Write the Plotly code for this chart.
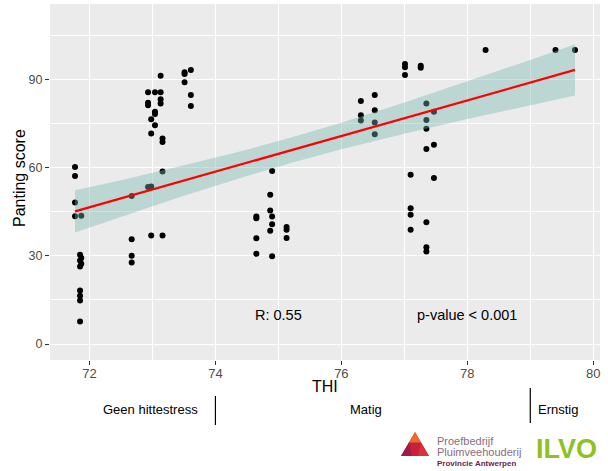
import plotly.graph_objects as go

# ---------------- data ----------------
thi = [71.77, 71.77, 71.77, 71.77,
       71.87, 71.85, 71.87, 71.85, 71.87, 71.85, 71.85, 71.85, 71.85, 71.85,
       72.67, 72.67, 72.67, 72.67,
       72.93, 72.93, 72.93, 72.93,
       72.98, 72.98, 72.98, 72.98,
       73.04, 73.04, 73.04, 73.04,
       73.13, 73.13, 73.13, 73.13,
       73.16, 73.16, 73.16, 73.16,
       73.51, 73.51, 73.51,
       73.61, 73.61, 73.61,
       74.65, 74.65, 74.65, 74.65,
       74.87, 74.87, 74.87,
       74.90, 74.90, 74.90, 74.90,
       75.13, 75.13, 75.13,
       76.31, 76.31, 76.31,
       76.53, 76.53, 76.53, 76.53,
       77.01, 77.01, 77.01,
       77.10, 77.10, 77.10, 77.10,
       77.26, 77.26,
       77.35, 77.35, 77.35, 77.35, 77.35, 77.35, 77.35,
       77.47, 77.47, 77.47,
       78.29, 79.40, 79.71]
panting = [60.2, 57.1, 48.1, 43.5,
           43.6, 30.4, 29.3, 28.4, 27.3, 26.4, 18.2, 16.4, 14.8, 7.7,
           50.3, 35.6, 30.0, 27.7,
           85.6, 82.0, 81.2, 53.4,
           76.4, 71.6, 53.6, 36.9,
           85.6, 79.0, 78.2, 74.4,
           91.2, 85.6, 83.2, 81.8,
           69.9, 68.7, 58.7, 36.9,
           92.4, 91.8, 89.0,
           93.2, 84.7, 80.9,
           43.4, 42.8, 36.0, 30.7,
           50.8, 45.4, 38.5,
           58.8, 43.4, 40.7, 29.9,
           39.8, 38.9, 36.1,
           82.6, 77.8, 76.0,
           84.7, 79.5, 75.3, 71.3,
           95.2, 94.1, 91.5,
           57.6, 46.2, 44.0, 38.9,
           94.6, 93.9,
           81.8, 76.2, 73.2, 66.3, 41.4, 32.9, 31.5,
           79.0, 67.8, 56.5,
           100.0, 100.0, 100.0]

# linear fit and its confidence band
fit_x = [71.77, 72.5, 73.5, 74.5, 75.2, 76.0, 77.0, 78.0, 79.0, 79.71]
fit_y = [45.1, 49.5, 55.6, 61.6, 65.9, 70.7, 76.8, 82.9, 88.9, 93.2]
ci_lo = [37.9, 43.2, 50.4, 57.1, 61.6, 66.2, 71.5, 76.5, 81.2, 84.5]
ci_hi = [52.3, 55.7, 60.8, 66.1, 70.2, 75.2, 82.1, 89.3, 96.6, 101.9]

x_ticks = [72, 74, 76, 78, 80]
x_minor = [73, 75, 77, 79]
y_ticks = [0, 30, 60, 90]
y_minor = [15, 45, 75, 105]

stat_text = ["R: 0.55", "p-value < 0.001"]
stat_x = [75, 78]
stat_y = [10, 10]

zones = ["Geen hittestress", "Matig", "Ernstig"]
zone_bounds = [74, 79]

# ---------------- layout geometry ----------------
W, H = 608, 471
ML, MR, MT, MB = 50, 8, 4, 111
PW, PH = W - ML - MR, H - MT - MB


def px(xp):
    return (xp - ML) / PW


def py(yp):
    return (MT + PH - yp) / PH


FONT = "Liberation Sans, Arial, sans-serif"


def label(xp, yp, text, size, color="black", xanchor="center", angle=0):
    return dict(x=px(xp), y=py(yp), xref="paper", yref="paper", text=text,
                showarrow=False, xanchor=xanchor, yanchor="middle", textangle=angle,
                font=dict(family=FONT, size=size, color=color))


fig = go.Figure()
fig.add_trace(go.Scatter(x=thi, y=panting, mode="markers",
                         marker=dict(color="black", size=6, line=dict(width=0)),
                         hoverinfo="skip", showlegend=False))
fig.add_trace(go.Scatter(x=fit_x, y=ci_lo, mode="lines", line=dict(width=0),
                         hoverinfo="skip", showlegend=False))
fig.add_trace(go.Scatter(x=fit_x, y=ci_hi, mode="lines", line=dict(width=0),
                         fill="tonexty", fillcolor="rgba(117,185,175,0.4)",
                         hoverinfo="skip", showlegend=False))
fig.add_trace(go.Scatter(x=fit_x, y=fit_y, mode="lines",
                         line=dict(color="#FF0000", width=2.2),
                         hoverinfo="skip", showlegend=False))

annotations = []
for t, xx, yy in zip(stat_text, stat_x, stat_y):
    annotations.append(dict(x=xx, y=yy, xref="x", yref="y", text=t, showarrow=False,
                            xanchor="center", yanchor="middle",
                            font=dict(family=FONT, size=14.5, color="black")))

# axis titles
annotations.append(label(325, 386, "THI", 16))
annotations.append(label(19, 178, "Panting score", 16, angle=-90))

# heat stress zones
zone_pos = [(150, 409), (366, 409), (558, 409)]
for z, (xp, yp) in zip(zones, zone_pos):
    annotations.append(label(xp, yp, z, 13))

# logos
annotations.append(label(435, 441, "Proefbedrijf", 11, "#8A6C80", "left"))
annotations.append(label(435, 452, "Pluimveehouderij", 11, "#8A6C80", "left"))
annotations.append(label(435, 463.5, "<b>Provincie Antwerpen</b>", 8, "#6B2450", "left"))
annotations.append(label(566, 449, "<b>ILVO</b>", 27, "#8DC21F"))

shapes = []
zone_line_y = [(396, 425), (388, 423)]
for b, (y0, y1) in zip(zone_bounds, zone_line_y):
    shapes.append(dict(type="line", xref="x", yref="paper", x0=b, x1=b,
                       y0=py(y0), y1=py(y1), line=dict(color="black", width=1.2)))


def tri(points, color):
    path = "M " + " L ".join(f"{px(a):.5f},{py(b):.5f}" for a, b in points) + " Z"
    return dict(type="path", xref="paper", yref="paper", path=path,
                fillcolor=color, line=dict(width=0))


shapes.append(tri([(415, 432), (401, 456), (429, 456)], "#C8203A"))
shapes.append(tri([(415, 432), (409, 442.5), (421, 442.5)], "#EC6A2C"))
shapes.append(tri([(409, 442.5), (401, 456), (412, 456)], "#9E1B46"))
shapes.append(tri([(421, 442.5), (418, 456), (429, 456)], "#D8323A"))

fig.update_layout(
    width=W, height=H,
    margin=dict(l=ML, r=MR, t=MT, b=MB, pad=0),
    paper_bgcolor="white", plot_bgcolor="#EBEBEB",
    showlegend=False,
    annotations=annotations, shapes=shapes,
    xaxis=dict(range=[71.373, 80.107], tickvals=x_ticks, ticktext=[str(v) for v in x_ticks],
               ticks="outside", ticklen=4, tickwidth=1, tickcolor="#333333",
               ticklabelstandoff=-3,
               showgrid=True, gridcolor="white", gridwidth=1.1, zeroline=False, showline=False,
               tickfont=dict(family=FONT, size=13, color="#4D4D4D"),
               minor=dict(tickvals=x_minor, showgrid=True, gridcolor="white", gridwidth=0.55, ticks="")),
    yaxis=dict(range=[-5.4, 115.6], tickvals=y_ticks, ticktext=[str(v) for v in y_ticks],
               ticks="outside", ticklen=4, tickwidth=1, tickcolor="#333333",
               showgrid=True, gridcolor="white", gridwidth=1.1, zeroline=False, showline=False,
               tickfont=dict(family=FONT, size=12.5, color="#4D4D4D"),
               minor=dict(tickvals=y_minor, showgrid=True, gridcolor="white", gridwidth=0.55, ticks="")),
)

fig.write_html("out.html", config={"displayModeBar": False})
